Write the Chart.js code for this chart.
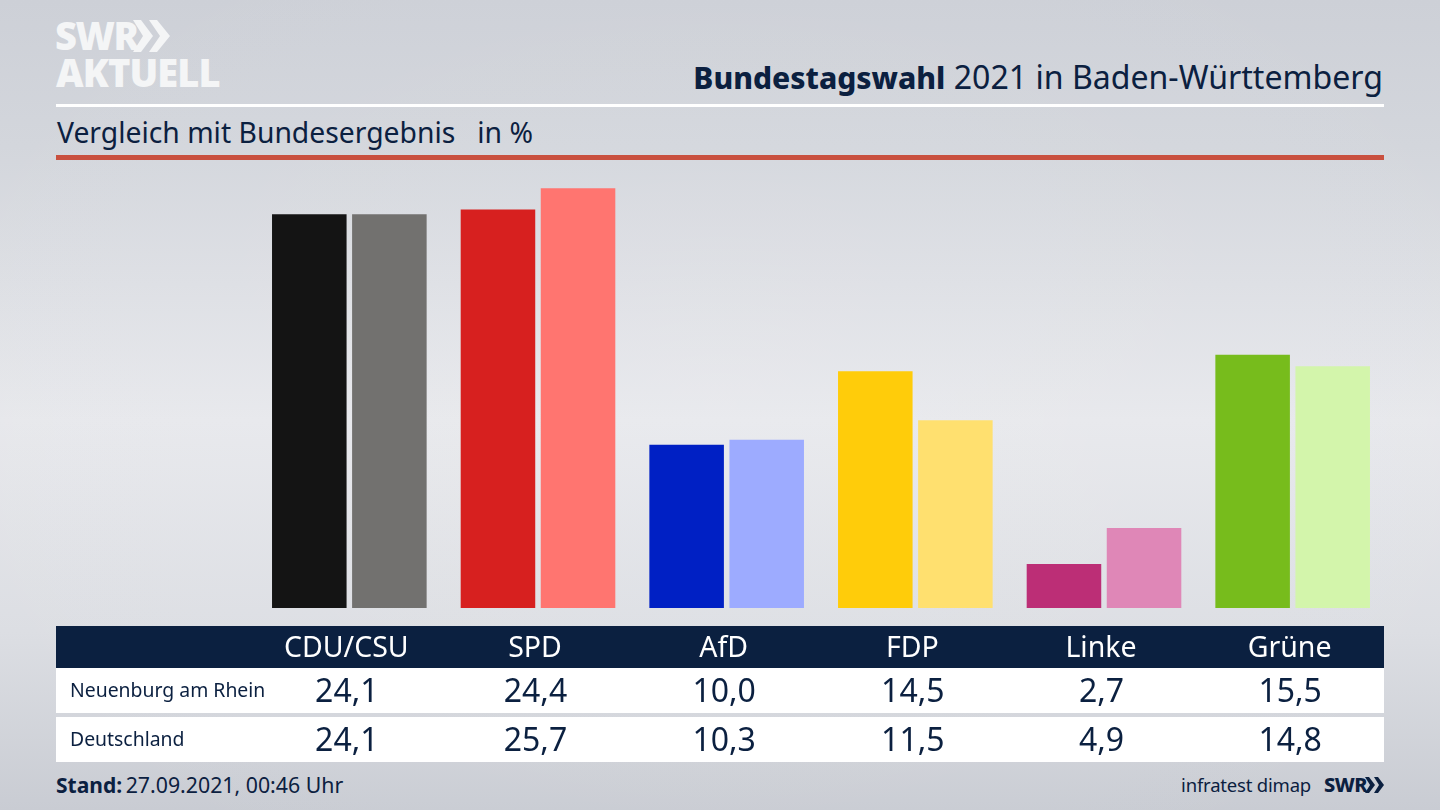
<!DOCTYPE html>
<html lang="de">
<head>
<meta charset="utf-8">
<title>Bundestagswahl 2021 in Baden-Württemberg</title>
<script src="https://cdn.jsdelivr.net/npm/chart.js@4/dist/chart.umd.min.js"></script>
<style>
html, body { margin: 0; padding: 0; }
body {
	width: 1440px; height: 810px; position: relative; overflow: hidden;
	font-family: "Noto Sans", sans-serif; color: #0b2040;
	background:
		radial-gradient(ellipse 900px 560px at 50% 50%, rgba(255,255,255,0.10), rgba(255,255,255,0) 100%),
		linear-gradient(180deg, #cdd0d7 0%, #d3d6dc 18%, #e7e8ec 52%, #dcdee3 78%, #c9ccd3 100%);
}
canvas { position: absolute; left: 0; top: 0; }
.box { position: absolute; }
.txt { position: absolute; white-space: nowrap; }
</style>
</head>
<body>
<div class="box" style="left:56px;top:104px;width:1328px;height:3px;background:#fff"></div>
<div class="box" style="left:56px;top:155px;width:1328px;height:5px;background:#c9503f"></div>
<div class="box" style="left:56px;top:626px;width:1328px;height:42px;background:#0b2040"></div>
<div class="box" style="left:56px;top:668px;width:1328px;height:45px;background:#fff"></div>
<div class="box" style="left:56px;top:717px;width:1328px;height:45px;background:#fff"></div>

<div class="txt" style="left:55px;top:9px;font-size:38px;line-height:52px;font-weight:900;color:#f4f5f6;letter-spacing:-1.5px">SWR</div>
<svg class="box" style="left:133px;top:20px" width="38" height="32" viewBox="0 0 38 32">
	<polygon points="0,0 8,0 20,16 8,32 0,32 10,16" fill="#f4f5f6"/>
	<polygon points="16,0 24,0 37,16 24,32 16,32 27,16" fill="#f4f5f6"/>
</svg>
<div class="txt" style="left:56px;top:46px;font-size:38px;line-height:52px;font-weight:900;color:#f4f5f6;letter-spacing:-0.9px">AKTUELL</div>

<div class="txt" style="right:57px;top:55px;font-size:32.1px;line-height:44px"><b style="font-size:30px;font-weight:800">Bundestagswahl</b> 2021 in Baden-Württemberg</div>
<div class="txt" style="left:57px;top:112px;font-size:28.3px;line-height:40px;white-space:pre">Vergleich mit Bundesergebnis   in %</div>

<div class="txt" style="left:56px;top:770px;font-size:21.3px;line-height:30px;white-space:pre"><b style="font-size:21px;margin-right:-2px">Stand:</b> 27.09.2021, 00:46 Uhr</div>
<div class="txt" style="right:129px;top:770px;font-size:18.5px;line-height:30px;letter-spacing:-0.2px">infratest dimap</div>
<div class="txt" style="left:1324px;top:770px;font-size:20px;line-height:30px;font-weight:800;letter-spacing:-0.5px">SWR</div>
<svg class="box" style="left:1365px;top:777px" width="20" height="16" viewBox="0 0 20 16">
	<polygon points="0,0 4,0 10,8 4,16 0,16 5,8" fill="#0b2040"/>
	<polygon points="9,0 13,0 19,8 13,16 9,16 14,8" fill="#0b2040"/>
</svg>

<canvas id="wahl-chart" width="1440" height="810"></canvas>
<div id="table-text"></div>

<script>
var parties = ['CDU/CSU', 'SPD', 'AfD', 'FDP', 'Linke', 'Grüne'];
var regionName = 'Neuenburg am Rhein';
var countryName = 'Deutschland';
var regionValues = [24.1, 24.4, 10.0, 14.5, 2.7, 15.5];
var countryValues = [24.1, 25.7, 10.3, 11.5, 4.9, 14.8];
var regionColors = ['#141414', '#d7201f', '#0020c4', '#ffcc0a', '#bc2e76', '#77bc1c'];
var countryColors = ['#72716f', '#ff7570', '#9dabff', '#ffe06f', '#df87b7', '#d3f5ab'];

Chart.defaults.animation = false;

var ctx = document.getElementById('wahl-chart').getContext('2d');
var wahlChart = new Chart(ctx, {
	type: 'bar',
	data: {
		labels: parties,
		datasets: [{
			label: regionName,
			data: regionValues,
			backgroundColor: regionColors
		}, {
			label: countryName,
			data: countryValues,
			backgroundColor: countryColors
		}]
	},
	options: {
		responsive: false,
		layout: { padding: { left: 255, right: 53, top: 167, bottom: 202 } },
		datasets: { bar: { categoryPercentage: 0.8488, barPercentage: 0.931 } },
		plugins: { legend: { display: false }, tooltip: { enabled: false } },
		scales: {
			x: { display: false },
			y: { display: false, min: 0, max: 27 }
		}
	}
});

// table text sits under the bars, a little left of each group centre
function addText(str, x, y, size, color) {
	var el = document.createElement('div');
	el.className = 'txt';
	el.textContent = str;
	el.style.left = x + 'px';
	el.style.top = y + 'px';
	el.style.fontSize = size + 'px';
	el.style.lineHeight = '40px';
	if (color) {
		el.style.color = color;
	}
	document.getElementById('table-text').appendChild(el);
	return el;
}

function fmt(v) {
	return v.toFixed(1).replace('.', ',');
}

var xScale = wahlChart.scales.x;
parties.forEach(function (name, i) {
	var cx = xScale.getPixelForTick(i) - 3;
	addText(name, cx, 626, 28.5, '#fff').style.transform = 'translateX(-50%)';
	addText(fmt(regionValues[i]), cx + 0.5, 670, 32).style.transform = 'translateX(-50%)';
	addText(fmt(countryValues[i]), cx + 0.5, 719, 32).style.transform = 'translateX(-50%)';
});
addText(regionName, 70, 670, 19.4);
addText(countryName, 70, 719, 19.4);
</script>
</body>
</html>
